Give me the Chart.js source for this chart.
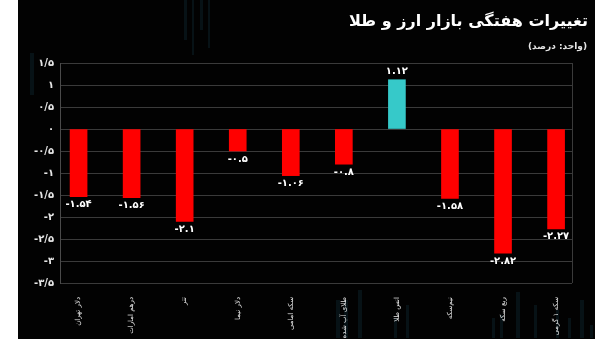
<!DOCTYPE html>
<html lang="fa">
<head>
<meta charset="utf-8">
<title>تغییرات هفتگی بازار ارز و طلا</title>
<script src="https://cdn.jsdelivr.net/npm/chart.js@4.4.1/dist/chart.umd.min.js"></script>
<style>
  html, body { margin: 0; padding: 0; background: #fff; }
  #wrap { position: absolute; left: 18px; top: 0; width: 577px; height: 339px; background: #020202; }
</style>
</head>
<body>
<div id="wrap"><canvas id="weeklyChart" width="577" height="339"></canvas></div>
<script>
// weekly change of currency and gold markets (percent)
const categories = ['دلار تهران', 'درهم امارات', 'تتر', 'دلار نیما', 'سکه امامی', 'طلای آب شده', 'انس طلا', 'نیم‌سکه', 'ربع سکه', 'سکه ۱ گرمی'];
const changes = [-1.54, -1.56, -2.1, -0.5, -1.06, -0.8, 1.12, -1.58, -2.82, -2.27];
const yTicks = [1.5, 1, 0.5, 0, -0.5, -1, -1.5, -2, -2.5, -3, -3.5];

const faDigits = '۰۱۲۳۴۵۶۷۸۹';
function toFa(str) {
    return String(str).replace(/[0-9]/g, d => faDigits[d]);
}

// faint candle strokes in the backdrop
const backdrop = [
    [12, 53, 4, 42], [166, 0, 3, 40], [174, 0, 2, 55], [182, 0, 3, 30], [190, 0, 2, 48],
    [318, 300, 4, 38], [326, 300, 4, 38], [340, 290, 4, 48], [376, 318, 3, 20],
    [388, 305, 3, 33], [474, 318, 3, 20], [482, 315, 3, 23], [498, 292, 4, 46],
    [516, 305, 3, 33], [538, 310, 3, 28], [550, 318, 3, 20], [562, 300, 4, 38], [572, 325, 3, 13]
];

const panelPlugin = {
    id: 'panel',
    beforeDraw(chart) {
        const ctx = chart.ctx;
        ctx.save();
        ctx.fillStyle = 'rgba(20, 55, 70, 0.3)';
        backdrop.forEach(([x, y, w, h]) => ctx.fillRect(x, y, w, h));
        ctx.restore();
    },
    afterDraw(chart) {
        const ctx = chart.ctx;
        const area = chart.chartArea;
        ctx.save();
        // right frame line
        ctx.strokeStyle = '#3a3a3a';
        ctx.lineWidth = 1;
        ctx.beginPath();
        ctx.moveTo(Math.round(area.right) + 0.5, area.top);
        ctx.lineTo(Math.round(area.right) + 0.5, area.bottom);
        ctx.stroke();

        // title block
        ctx.fillStyle = '#ffffff';
        ctx.direction = 'rtl';
        ctx.textAlign = 'right';
        ctx.textBaseline = 'middle';
        ctx.font = 'bold 16px "DejaVu Sans"';
        ctx.fillText('تغییرات هفتگی بازار ارز و طلا', 570, 22);
        ctx.font = 'bold 9px "DejaVu Sans"';
        ctx.fillStyle = '#e6e6e6';
        ctx.fillText('(واحد: درصد)', 569, 47);

        // value labels under / above each bar
        const meta = chart.getDatasetMeta(0);
        ctx.direction = 'ltr';
        ctx.textAlign = 'center';
        ctx.font = 'bold 10px "DejaVu Sans"';
        ctx.fillStyle = '#ffffff';
        meta.data.forEach((bar, i) => {
            const v = changes[i];
            const y = v < 0 ? bar.y + 8 : bar.y - 8;
            ctx.fillText(toFa(v), bar.x, y);
        });
        ctx.restore();
    }
};

new Chart(document.getElementById('weeklyChart'), {
    type: 'bar',
    data: {
        datasets: [{
            data: changes.map((v, i) => ({ x: i, y: v })),
            backgroundColor: changes.map(v => v < 0 ? '#ff0000' : '#36c9c9'),
            borderWidth: 0,
            barThickness: 17
        }]
    },
    options: {
        responsive: false,
        animation: false,
        layout: { padding: { top: 63, right: 23, left: 0, bottom: 0 } },
        plugins: {
            legend: { display: false },
            tooltip: { enabled: false }
        },
        scales: {
            x: {
                type: 'linear',
                offset: false,
                min: -0.35,
                max: 9.3,
                afterBuildTicks(scale) {
                    scale.ticks = categories.map((_, i) => ({ value: i }));
                },
                afterFit(scale) { scale.height = 56; },
                grid: { display: false },
                border: { display: false },
                ticks: {
                    color: '#e6e6e6',
                    font: { family: '"DejaVu Sans"', size: 7 },
                    minRotation: 90,
                    maxRotation: 90,
                    padding: 6,
                    autoSkip: false,
                    callback: v => categories[v]
                }
            },
            y: {
                min: -3.5,
                max: 1.5,
                afterBuildTicks(scale) {
                    scale.ticks = yTicks.map(v => ({ value: v }));
                },
                afterFit(scale) { scale.width = 42; },
                grid: { color: '#3a3a3a', lineWidth: 1, drawTicks: false },
                border: { display: true, color: '#4a4a4a' },
                ticks: {
                    color: '#e6e6e6',
                    font: { family: '"DejaVu Sans"', size: 10, weight: 'bold' },
                    padding: 6,
                    callback: v => toFa(v).replace('.', '/')
                }
            }
        }
    },
    plugins: [panelPlugin]
});
</script>
</body>
</html>
